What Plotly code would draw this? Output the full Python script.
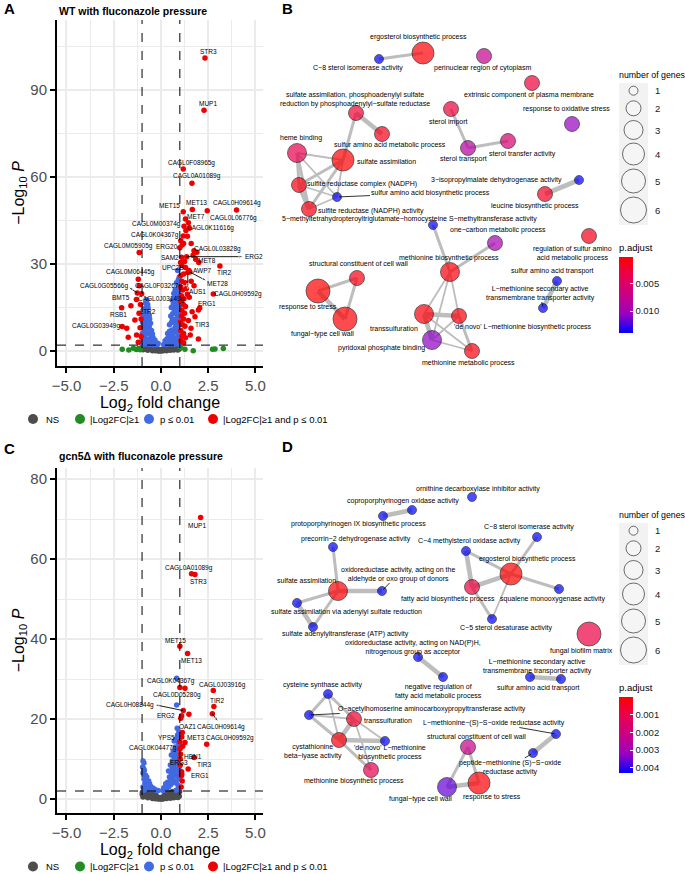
import plotly.graph_objects as go

W, H = 685, 874
FONT = "Liberation Sans, Arial, sans-serif"

# ================= Panel A : WT volcano (log2FC, -log10 P) =================
A_ns = [(-0.98,1.6),(-0.9,1.2),(-0.82,1.5),(-0.75,0.9),(-0.66,1.1),(-0.58,0.7),(-0.5,0.8),(-0.43,0.5),
        (-0.35,0.4),(-0.27,0.3),(-0.2,0.2),(-0.12,0.1),(-0.05,0.05),(0.03,0.08),(0.1,0.15),(0.17,0.25),
        (0.25,0.3),(0.33,0.45),(0.41,0.5),(0.48,0.7),(0.56,0.8),(0.63,1.0),(0.71,1.2),(0.79,1.4),(0.86,1.5),
        (0.94,1.7),(0.99,1.9),(-0.95,0.4),(-0.7,0.2),(-0.45,0.1),(-0.3,0.05),(-0.15,0.0),(0.0,0.02),
        (0.12,0.03),(0.3,0.1),(0.5,0.2),(0.68,0.3),(0.84,0.5),(0.97,0.7),(-0.6,1.8),(-0.25,1.0),(0.08,0.6),
        (0.2,1.2),(0.4,1.7),(0.6,1.9),(0.9,0.3),(-0.88,0.6),(-0.38,1.3),(0.45,1.1),(0.75,0.6),(-0.99,1.0),
        (-0.8,1.9),(-0.1,0.5),(0.35,1.3)]
A_fc = [(-2.05,0.6),(-1.46,0.9),(-1.3,0.5),(-1.18,0.8),(-1.1,0.4),(-1.7,0.3),(1.27,0.6),(1.71,0.1),
        (2.73,0.6),(2.86,0.7),(3.3,0.8),(1.05,1.2)]
A_p = [(-1.0,2.5),(-0.9,2.3),(-0.8,2.6),(-0.7,2.4),(-0.6,2.2),(-0.5,2.3),(-0.4,2.1),(-0.3,2.2),(-0.2,2.1),
       (-0.98,4),(-0.85,4.5),(-0.72,3.8),(-0.6,4.2),(-0.48,3.5),(-0.35,3.2),(-0.25,2.8),
       (-0.99,6),(-0.9,6.5),(-0.78,5.8),(-0.65,6.2),(-0.52,5.2),(-0.42,4.6),
       (-0.97,8),(-0.88,8.5),(-0.75,7.8),(-0.62,8.3),(-0.5,7),
       (-0.98,10),(-0.85,10.5),(-0.72,10),(-0.6,11),
       (-0.95,12),(-0.82,12.5),(-0.7,13),(-0.62,12.2),
       (-0.9,14.5),(-0.78,15),(-0.68,14.8),(-0.82,16.5),(-0.74,17.6),
       (0.15,2.2),(0.25,2.4),(0.35,2.3),(0.45,2.6),(0.55,2.4),(0.65,2.5),(0.75,2.3),(0.85,2.6),(0.95,2.4),
       (0.22,3.5),(0.32,4.2),(0.42,4.6),(0.55,4),(0.68,4.5),(0.8,3.8),(0.92,4.2),
       (0.35,6),(0.45,6.8),(0.58,7.2),(0.7,6.5),(0.82,7),(0.95,6.3),
       (0.45,9),(0.55,9.8),(0.67,10.2),(0.78,9.5),(0.9,10),(0.98,9),
       (0.52,12),(0.62,12.8),(0.72,13.5),(0.85,12.5),(0.95,13),
       (0.55,15),(0.65,16),(0.76,15.5),(0.88,16.2),(0.97,15),
       (0.6,17.5),(0.72,18.5),(0.85,19),(0.95,18),
       (0.75,21),(0.88,21.5),(0.96,22),(0.82,23.5),(0.92,24.5),(0.97,25.5),
       (-0.93,3),(-0.86,7),(-0.92,9.2),(-0.78,11.5),(-0.88,13.5),(-0.7,16),(-0.55,9.5),(-0.45,5.8),
       (-0.32,3.8),(-0.66,9.2),(0.28,2.9),(0.5,5.2),(0.62,5.8),(0.75,8.2),(0.88,8.3),(0.6,11),(0.8,11),
       (0.92,11.5),(0.68,14.5),(0.82,14),(0.9,17.3),(0.78,17),(0.68,19.8),(0.8,20.3),(0.93,20),(0.9,23),
       (0.72,3.2),(0.9,5.5),(0.38,3.3),(-0.15,2.6)]
A_sig = [(1.05,38),(1.12,36.5),(1.2,37),(1.04,30.5),(1.1,29.5),(1.25,30.8),(1.3,28.8),(1.05,26),(1.2,26.5),
         (1.1,24),(1.28,23.5),(1.05,22),(1.15,21),(1.35,21.5),(1.08,19),(1.22,18),(1.4,19.5),(1.05,17),
         (1.18,16),(1.3,15.3),(1.1,14),(1.25,13),(1.08,12),(1.2,11),(1.03,10),(1.15,9),(1.27,8.5),(1.05,7),
         (1.2,6),(1.1,5),(1.3,4.5),(1.05,3.5),(1.2,2.8),(1.8,11.8),(1.98,4.1),(1.6,24),(1.75,22.5),
         (1.5,18.5),(1.65,13.5),(2.05,14.8),(1.45,10.5),(1.55,5.5),(1.7,33),(1.9,34),(2.0,30.5),(1.6,37),
         (1.4,39.5),(1.3,45.5),(1.22,43),
         (-1.3,17.7),(-1.16,13),(-1.38,10.7),(-1.29,5.5),(-1.73,4.7),(-1.81,7.8),(-1.1,8),(-1.05,11),
         (-1.15,22.5),(-1.08,16),(-1.05,5),(-1.2,3)]
# labelled genes: name, log2FC, -log10P, class
A_genes = ["STR3","MUP1","CAGL0F08965g","CAGL0A01089g","MET15","MET13","CAGL0H09614g","CAGL0L06776g",
           "MET7","CAGL0M00374g","CAGL0K11616g","CAGL0K04367g","CAGL0M05905g","ERG20","CAGL0L03828g",
           "SAM2","ERG2","MET8","TIR2","UPC2B","AWP7","MET28","AUS1","CAGL0H09592g","ERG1","TIR3",
           "CAGL0M06445g","CAGL0G05566g","CAGL0F03267g","BMT5","CAGL0J03149g","LTR2","RSB1","CAGL0G03949g"]
A_gene_fc = [2.33,2.28,1.18,1.64,1.18,1.66,4.0,2.45,1.45,1.32,1.5,1.18,-1.15,1.0,1.75,1.09,1.36,1.84,3.12,
             0.88,1.48,1.53,1.42,2.77,1.98,1.59,-1.2,-1.25,-1.02,-1.59,0.88,-0.85,-2.08,-2.05]
A_gene_lp = [101,83,62.7,57.8,48,48.8,48.6,48.3,44.2,41.5,42.3,39.6,33.9,35.6,34.5,32.3,32.5,31.6,29.3,27.7,
             27.7,27.2,27.0,19.6,14.1,7.8,24.7,20,19.7,15.6,17.2,12.0,14.9,8.4]
A_gene_cls = ["sig"]*19 + ["p"] + ["sig"]*10 + ["p","p","sig","sig"]

# ================= Panel C : gcn5 volcano =================
C_ns = [(-0.98,1.7),(-0.9,1.3),(-0.82,1.5),(-0.75,1.0),(-0.66,1.2),(-0.58,0.8),(-0.5,0.7),(-0.43,0.5),
        (-0.35,0.4),(-0.27,0.3),(-0.2,0.2),(-0.12,0.1),(-0.05,0.05),(0.03,0.08),(0.1,0.15),(0.17,0.25),
        (0.25,0.3),(0.33,0.45),(0.41,0.5),(0.48,0.7),(0.56,0.8),(0.63,1.0),(0.71,1.2),(0.79,1.4),(0.86,1.5),
        (0.94,1.7),(0.99,1.9),(-0.95,0.5),(-0.7,0.3),(-0.45,0.1),(-0.3,0.05),(-0.15,0.0),(0.0,0.02),
        (0.12,0.03),(0.3,0.1),(0.5,0.2),(0.68,0.3),(0.84,0.5),(0.97,0.7),(-0.6,1.8),(-0.25,0.9),(0.08,0.5),
        (0.2,1.1),(0.4,1.6),(0.6,1.9),(0.9,0.4),(-0.88,0.8),(-0.38,1.3),(0.45,1.1),(0.75,0.6),(-0.99,1.1),
        (-0.8,1.9),(-0.1,0.4),(0.35,1.3)]
C_p = [(-0.95,9.5),(-0.9,9),(-0.97,8),(-0.88,7.2),(-0.95,6.5),(-0.82,6),(-0.9,5),(-0.75,5.5),(-0.65,4.5),
       (-0.85,4),(-0.7,3.5),(-0.55,3.2),(-0.45,2.8),(-0.35,2.5),(-0.25,2.2),(-0.95,3),(-0.6,2.4),(-0.8,2.6),
       (-0.9,2.2),(-0.15,2.1),
       (0.1,2.1),(0.2,2.3),(0.3,2.6),(0.4,3),(0.5,3.5),(0.6,4),(0.7,4.5),(0.8,4),(0.9,3.5),(0.95,5),
       (0.35,4.2),(0.45,5.5),(0.55,6.5),(0.65,7.2),(0.75,6.8),(0.85,7.5),(0.97,8),(0.5,8.5),(0.6,9.5),
       (0.7,10.5),(0.8,9.8),(0.9,11),(0.98,10),(0.65,12),(0.75,13),(0.85,12.5),(0.93,14),(0.78,15),
       (0.88,16),(0.95,16.8),(0.86,17.7),(0.55,11),(0.4,7),(0.25,3.8),(0.97,12.5),(0.83,23.5),(0.83,30.2),
       (0.7,14.5),(0.92,2.5),(0.8,2.2),
       (-0.92,7.6),(-0.8,4.6),(-0.6,3.8),(-0.5,2.4),(-0.72,2.9),(0.15,2.8),(0.35,3.3),(0.5,4.6),(0.62,5.5),
       (0.72,5.8),(0.85,5.7),(0.9,6.5),(0.7,8.5),(0.88,9),(0.6,7.8),(0.8,11.5),(0.9,13),(0.68,11),
       (0.85,14.6),(0.92,15.5)]
C_sig = [(1.48,21.2),(1.05,20.2),(1.1,15.5),(1.05,12.8),(1.02,10),(1.1,6.2),(1.08,5.8),(1.15,13.2),
         (1.02,8.5),(1.07,3),(1.12,4.5)]
C_genes = ["MUP1","CAGL0A01089g","STR3","MET15","MET13","CAGL0K04367g","CAGL0D05280g","CAGL0J03916g",
           "TIR2","CAGL0H09614g","CAGL0H08844g","ERG2","OAZ1","YPS5","MET3","CAGL0H09592g","CAGL0K04477g",
           "HBN1","TIR3","ERG3","ERG1"]
C_gene_fc = [2.1,1.62,1.8,1.0,1.41,1.0,1.27,2.77,2.8,2.72,1.18,1.09,1.13,1.0,1.27,2.42,1.0,1.04,1.75,1.09,1.44]
C_gene_lp = [70.4,56.3,56.1,38.2,36.4,27.9,27.7,27.1,23.1,21.3,22.1,20.8,16.6,14.3,14.1,13.7,12.5,11.2,10.4,6.8,7.5]

# ================= Panel B : enrichment map (WT) =================
B_terms = ["ergosterol biosynthetic process","C−8 sterol isomerase activity","perinuclear region of cytoplasm",
           "extrinsic component of plasma membrane","response to oxidative stress",
           "sulfate assimilation, phosphoadenylyl sulfate<br>reduction by phosphoadenylyl−sulfate reductase",
           "sulfur amino acid metabolic process","heme binding","sulfate assimilation",
           "sulfite reductase complex (NADPH)","sulfur amino acid biosynthetic process",
           "sulfite reductase (NADPH) activity","sterol import","sterol transport","sterol transfer activity",
           "3−isopropylmalate dehydrogenase activity","leucine biosynthetic process",
           "5−methyltetrahydropteroyltriglutamate−homocysteine S−methyltransferase activity",
           "one−carbon metabolic process","methionine biosynthetic process",
           "regulation of sulfur amino<br>acid metabolic process","sulfur amino acid transport",
           "L−methionine secondary active<br>transmembrane transporter activity",
           "structural constituent of cell wall","response to stress","fungal−type cell wall","transsulfuration",
           "'de novo' L−methionine biosynthetic process","pyridoxal phosphate binding",
           "methionine metabolic process"]
B_x = [423,379,484,532,572,356,382,297,343,299,337,309,451,468,508,579,545,433,495,450,589,557,543,357,318,345,424,459,432,472]
B_y = [53,59,56,83,124,113,134,153,160,185,197,209,109,148,141,180,194,225,243,272,236,281,308,278,291,319,314,316,340,351]
B_count = [4,1,2,2,2,2,2,3,4,2,1,2,2,2,2,1,2,1,2,3,2,1,1,2,5,5,3,2,3,2]
B_padj = [0.0003,0.01406,0.0075,0.0025,0.0105,0.0022,0.0012,0.0035,0.0002,0.0008,0.01406,0.0008,0.0025,
          0.0085,0.0055,0.01406,0.0015,0.01406,0.0095,0.0004,0.0012,0.01406,0.01406,0.0008,0.00001,0.0002,
          0.0004,0.0005,0.0108,0.0006]
B_edges = [(0,1,2),(12,13,2),(13,14,2),(15,16,3),(21,22,3),(5,6,3),(5,8,2),(7,8,1),(7,9,2),(7,11,2),(7,10,1),
           (8,9,2),(8,10,1),(8,11,2),(9,10,1),(9,11,3),(10,11,1),(17,19,2),(18,19,2),(19,26,1),(19,27,1),
           (19,28,1),(26,27,3),(26,28,3),(26,29,1),(27,28,1),(27,29,2),(28,29,1),(23,24,2),(23,25,2),(24,25,3)]

# ================= Panel D : enrichment map (gcn5) =================
D_terms = ["ornithine decarboxylase inhibitor activity","coproporphyrinogen oxidase activity",
           "protoporphyrinogen IX biosynthetic process","precorrin−2 dehydrogenase activity","sulfate assimilation",
           "oxidoreductase activity, acting on the<br>aldehyde or oxo group of donors",
           "sulfate assimilation via adenylyl sulfate reduction","sulfate adenylyltransferase (ATP) activity",
           "C−8 sterol isomerase activity","C−4 methylsterol oxidase activity","ergosterol biosynthetic process",
           "fatty acid biosynthetic process","squalene monooxygenase activity","C−5 sterol desaturase activity",
           "fungal biofilm matrix","oxidoreductase activity, acting on NAD(P)H,<br>nitrogenous group as acceptor",
           "negative regulation of<br>fatty acid metabolic process",
           "L−methionine secondary active<br>transmembrane transporter activity","sulfur amino acid transport",
           "cysteine synthase activity","O−acetylhomoserine aminocarboxypropyltransferase activity",
           "transsulfuration","cystathionine<br>beta−lyase activity","'de novo' L−methionine<br>biosynthetic process",
           "methionine biosynthetic process","L−methionine−(S)−S−oxide reductase activity",
           "peptide−methionine (S)−S−oxide<br>reductase activity","structural constituent of cell wall",
           "fungal−type cell wall","response to stress"]
D_x = [472,412,383,333,338,382,297,313,537,466,511,472,559,492,589,418,443,530,561,328,309,354,339,385,371,556,533,468,447,479]
D_y = [497,510,516,547,591,591,603,627,537,551,574,587,589,619,634,657,677,677,679,694,715,719,740,741,770,734,753,747,787,783]
D_count = [1,1,1,1,3,1,1,1,1,1,4,2,1,1,5,1,1,1,1,1,1,2,2,1,2,1,1,2,3,4]
D_padj = [0.00429,0.00429,0.00429,0.00429,0.00005,0.00429,0.00429,0.00429,0.00429,0.00429,0.00001,0.0008,
          0.00429,0.00429,0.0009,0.00429,0.00429,0.00429,0.00429,0.00429,0.00429,0.0006,0.0002,0.00429,0.0011,
          0.00429,0.00429,0.0022,0.0036,0.0001]
D_edges = [(1,2,3),(3,4,2),(4,5,3),(4,6,2),(4,7,2),(6,7,3),(9,10,2),(9,11,3),(10,11,3),(8,10,2),(10,12,2),
           (10,13,1),(11,13,2),(15,16,3),(17,18,3),(19,20,2),(19,21,2),(19,22,1),(20,21,1),(20,22,2),(21,22,3),
           (21,23,1),(22,23,3),(21,24,1),(22,24,2),(25,26,3),(27,28,2),(27,29,2),(28,29,3)]

SIZE_LEVELS = [1, 2, 3, 4, 5, 6]

# ---------------- styles / layout helpers (not data) ----------------
COL = {"ns": "#4D4D4D", "fc": "#228B22", "p": "#4169E1", "sig": "#EE0000"}
SIZE_PX = {1: 9, 2: 15, 3: 19, 4: 22, 5: 24, 6: 26}
EDGE_W = {1: 1.8, 2: 3.0, 3: 4.6}
CSCALE = [[0, "#0000FF"], [0.25, "rgb(154,0,194)"], [0.5, "rgb(202,0,136)"], [0.75, "rgb(232,0,80)"], [1, "#FF0000"]]

A_lab = {"STR3": (4, -6), "MUP1": (4, -7), "CAGL0F08965g": (8, -6), "CAGL0A01089g": (5, -7), "MET15": (-14, -6),
         "MET13": (4, -7), "CAGL0H09614g": (0, -7), "CAGL0L06776g": (26, 7), "MET7": (8, -6),
         "CAGL0M00374g": (-29, -7), "CAGL0K11616g": (21, 0), "CAGL0K04367g": (-28, -1),
         "CAGL0M05905g": (-11, -7), "ERG20": (-13, -1), "CAGL0L03828g": (23, -2), "SAM2": (-12, 0),
         "ERG2": (67, 0), "MET8": (11, 1), "TIR2": (4, 7), "UPC2B": (-5, -3), "AWP7": (14, 0),
         "MET28": (28, 11), "AUS1": (10, 19), "CAGL0H09592g": (25, 0), "ERG1": (9, -7), "TIR3": (11, -4),
         "CAGL0M06445g": (-8, -7), "CAGL0G05566g": (-33, -7), "CAGL0F03267g": (17, -8), "BMT5": (-10, -8),
         "CAGL0J03149g": (-16, -2), "LTR2": (3, -5), "RSB1": (-3, 7), "CAGL0G03949g": (-26, -1)}
A_arrow = {"ERG2": (57, 0), "MET28": (17, 9), "AUS1": (0, 16), "CAGL0G05566g": (-9, -6)}
C_lab = {"MUP1": (-4, 8), "CAGL0A01089g": (-3, -6), "STR3": (4, 7), "MET15": (-4, -6), "MET13": (4, 7),
         "CAGL0K04367g": (-9, -6), "CAGL0D05280g": (-8, 7), "CAGL0J03916g": (9, -6), "TIR2": (3, -6),
         "CAGL0H09614g": (9, 13), "CAGL0H08844g": (-53, -6), "ERG2": (-16, 0), "OAZ1": (5, -6),
         "YPS5": (-13, -4), "MET3": (11, -5), "CAGL0H09592g": (23, -6), "CAGL0K04477g": (-27, -1),
         "HBN1": (12, 2), "TIR3": (10, 7), "ERG3": (-3, -9), "ERG1": (12, 6)}
C_arrow = {"CAGL0H09614g": (6, 8), "CAGL0H08844g": (-29, -6)}

B_off = [(-5,-16),(-21,9),(-2,12),(-3,12),(-6,-15),(-1,-14),(8,11),(4,-15),(43,1),(63,-1),(93,-4),(62,2),
         (-3,13),(-5,11),(14,13),(-83,0),(-10,12),(-24,-6),(3,-13),(-1,-14),(-17,17),(-5,-10),(-3,-15),
         (1,-15),(-10,16),(-23,15),(-30,14),(64,11),(-51,8),(-4,12)]
B_lead = {10, 22}
D_off = [(6,-8),(-9,-9),(-25,8),(23,-8),(-32,-11),(16,-17),(49,9),(32,7),(-8,-10),(3,-10),(16,-15),(-24,12),
         (-6,10),(14,9),(-8,17),(-5,-10),(-5,14),(7,-11),(-23,9),(-6,-9),(123,-6),(34,1),(-26,11),(5,11),
         (-17,11),(-62,-11),(-23,14),(8,-11),(-27,12),(13,14)]
D_lead = {5, 20, 25, 26}

# axis geometry (page pixels)
VX0, VX1 = 57, 263
A_T, A_B = 20, 366
C_T, C_B = 468, 813
XR = [-5.5, 5.4]
A_YR = [-5.2, 114.1]
C_YR = [-3.5, 82.75]

fig = go.Figure()
ann = []
shapes = []


def unzip(pairs):
    return [p[0] for p in pairs], [p[1] for p in pairs]


def volcano(xa, ya, ns, fc, p, sig, genes, gfc, glp, gcls):
    pts = {"ns": list(ns), "fc": list(fc), "p": list(p), "sig": list(sig)}
    for g, x, y, c in zip(genes, gfc, glp, gcls):
        pts[c].append((x, y))
    for k in ["ns", "fc", "p", "sig"]:
        if not pts[k]:
            continue
        x, y = unzip(pts[k])
        fig.add_trace(go.Scatter(x=x, y=y, mode="markers", xaxis=xa, yaxis=ya, showlegend=False,
                                 marker=dict(size=5.5, color=COL[k], line=dict(width=0)), hoverinfo="skip"))


volcano("x", "y", A_ns, A_fc, A_p, A_sig, A_genes, A_gene_fc, A_gene_lp, A_gene_cls)
volcano("x2", "y2", C_ns, [], C_p, C_sig, C_genes, C_gene_fc, C_gene_lp, ["sig"] * len(C_genes))


def vol_labels(xa, ya, genes, gfc, glp, lab, arrows, yr, top, bot):
    sx = (XR[1] - XR[0]) / (VX1 - VX0)
    sy = (yr[1] - yr[0]) / (bot - top)
    for g, x, y in zip(genes, gfc, glp):
        dx, dy = lab[g]
        ann.append(dict(x=x, y=y, xref=xa, yref=ya, text=g, showarrow=False, xshift=dx, yshift=-dy,
                        font=dict(size=6.5, color="black", family=FONT)))
        if g in arrows:
            adx, ady = arrows[g]
            fig.add_trace(go.Scatter(x=[x, x + adx * sx], y=[y, y - ady * sy], mode="lines+markers",
                                     xaxis=xa, yaxis=ya, showlegend=False, hoverinfo="skip",
                                     line=dict(color="black", width=0.9),
                                     marker=dict(symbol="arrow", size=[0, 5], angleref="previous",
                                                 color="black")))


vol_labels("x", "y", A_genes, A_gene_fc, A_gene_lp, A_lab, A_arrow, A_YR, A_T, A_B)
vol_labels("x2", "y2", C_genes, C_gene_fc, C_gene_lp, C_lab, C_arrow, C_YR, C_T, C_B)

# threshold lines
for xr, yr in [("x", "y"), ("x2", "y2")]:
    for xv in (-1, 1):
        shapes.append(dict(type="line", xref=xr, yref=yr + " domain", x0=xv, x1=xv, y0=0, y1=1,
                           line=dict(color="black", width=1, dash="dash")))
    shapes.append(dict(type="line", xref=xr + " domain", yref=yr, x0=0, x1=1, y0=2, y1=2,
                       line=dict(color="black", width=1, dash="dash")))


# ---------------- networks ----------------
def network(terms, nx, ny, cnt, padj, edges, offs, leads, cb_top, tvals):
    for w in (1, 2, 3):
        ex, ey = [], []
        for i, j, ww in edges:
            if ww == w:
                ex += [nx[i], nx[j], None]
                ey += [ny[i], ny[j], None]
        fig.add_trace(go.Scatter(x=ex, y=ey, mode="lines", xaxis="x3", yaxis="y3", showlegend=False,
                                 line=dict(color="#BDBDBD", width=EDGE_W[w]), hoverinfo="skip"))
    pmin, pmax = min(padj), max(padj)
    fig.add_trace(go.Scatter(
        x=nx, y=ny, mode="markers", xaxis="x3", yaxis="y3", showlegend=False, hoverinfo="skip",
        marker=dict(size=[SIZE_PX[c] for c in cnt], color=[-p for p in padj], colorscale=CSCALE,
                    cmin=-pmax, cmax=-pmin, line=dict(color="black", width=0.8), showscale=True,
                    colorbar=dict(x=619 / W, xanchor="left", xpad=0, y=1 - (cb_top - 16) / H, yanchor="top",
                                  ypad=0, len=92, lenmode="pixels", thickness=14, thicknessmode="pixels",
                                  outlinewidth=0, ticks="inside", tickcolor="white", ticklen=3,
                                  title=dict(text="p.adjust", side="top",
                                             font=dict(size=9.5, color="black", family=FONT)),
                                  tickvals=[-v for v in tvals], ticktext=["%.3f" % v for v in tvals],
                                  tickfont=dict(size=9.5, color="#1A1A1A", family=FONT)))))
    for k, (t, x, y) in enumerate(zip(terms, nx, ny)):
        dx, dy = offs[k]
        if k in leads:
            ann.append(dict(x=x, y=y, xref="x3", yref="y3", ax=x + dx, ay=y + dy, axref="x3", ayref="y3",
                            text=t, showarrow=True, arrowhead=0, arrowwidth=0.8, arrowcolor="black",
                            standoff=2, borderpad=0, font=dict(size=7, color="black", family=FONT)))
        else:
            ann.append(dict(x=x + dx, y=y + dy, xref="x3", yref="y3", text=t, showarrow=False,
                            font=dict(size=7, color="black", family=FONT)))


network(B_terms, B_x, B_y, B_count, B_padj, B_edges, B_off, B_lead, 257, [0.005, 0.010])
network(D_terms, D_x, D_y, D_count, D_padj, D_edges, D_off, D_lead, 697, [0.001, 0.002, 0.003, 0.004])

# size legends
for top, circ_y in [(75, [90.7, 108.3, 130, 154, 181, 210]), (515, [530.7, 548.3, 570, 594, 621, 650])]:
    shapes.append(dict(type="rect", xref="x3", yref="y3", x0=619, x1=648, y0=top + 8, y1=top + 150,
                       fillcolor="#F2F2F2", line=dict(width=0), layer="below"))
    fig.add_trace(go.Scatter(x=[633.5] * 6, y=circ_y, mode="markers", xaxis="x3", yaxis="y3", showlegend=False,
                             hoverinfo="skip",
                             marker=dict(size=[SIZE_PX[s] for s in SIZE_LEVELS], color="#F7F7F7",
                                         line=dict(color="black", width=0.8))))
    for s, yy in zip(SIZE_LEVELS, circ_y):
        ann.append(dict(x=653, y=yy, xref="x3", yref="y3", text=str(s), showarrow=False, xanchor="left",
                        font=dict(size=9.5, color="#1A1A1A", family=FONT)))
    ann.append(dict(x=617, y=top, xref="x3", yref="y3", text="number of genes", showarrow=False,
                    xanchor="left", font=dict(size=8.8, color="black", family=FONT)))

# volcano legends
LEG = [("ns", "NS"), ("fc", "|Log2FC|≥1"), ("p", "p ≤ 0.01"), ("sig", "|Log2FC|≥1 and p ≤ 0.01")]
LEG_DOT_X = [33, 80, 149, 213]
LEG_TXT_X = [44, 88, 158, 221]
for ly in (419, 866.5):
    fig.add_trace(go.Scatter(x=LEG_DOT_X, y=[ly] * 4, mode="markers", xaxis="x3", yaxis="y3", showlegend=False,
                             hoverinfo="skip", marker=dict(size=10, color=[COL[k] for k, _ in LEG])))
    for (k, t), tx in zip(LEG, LEG_TXT_X):
        ann.append(dict(x=tx, y=ly, xref="x3", yref="y3", text=t, showarrow=False, xanchor="left",
                        font=dict(size=9.5, color="black", family=FONT)))

# titles / panel letters
for t, x, y in [("A", 2, 8), ("B", 280, 8), ("C", 2, 448), ("D", 280, 446)]:
    ann.append(dict(x=x, y=y, xref="x3", yref="y3", text="<b>%s</b>" % t, showarrow=False, xanchor="left",
                    font=dict(size=15, color="black", family=FONT)))
for t, y in [("WT with fluconazole pressure", 11), ("gcn5Δ with fluconazole pressure", 456)]:
    ann.append(dict(x=57, y=y, xref="x3", yref="y3", text="<b>%s</b>" % t, showarrow=False, xanchor="left",
                    font=dict(size=10.5, color="black", family=FONT)))


def vaxis(dom, rng, dtick, minor, anchor, title, standoff, fmt=None):
    d = dict(domain=dom, range=rng, dtick=dtick, tick0=0, anchor=anchor, showgrid=True, gridcolor="#EBEBEB",
             gridwidth=1.6, minor=dict(dtick=minor, showgrid=True, gridcolor="#EBEBEB", gridwidth=1, ticks=""),
             zeroline=False, showline=True, linecolor="black", linewidth=2, ticks="outside", ticklen=5,
             tickwidth=1.5, tickcolor="black", tickfont=dict(size=15, color="#4D4D4D", family=FONT),
             title=dict(text=title, standoff=standoff, font=dict(size=16, color="black", family=FONT)),
             automargin=False, fixedrange=True)
    if fmt:
        d["tickformat"] = fmt
    return d


XT = "Log<sub>2</sub> fold change"
YT = "−Log<sub>10</sub> <i>P</i>"
xd = [VX0 / W, VX1 / W]
fig.update_layout(
    width=W, height=H, margin=dict(l=0, r=0, t=0, b=0), paper_bgcolor="white", plot_bgcolor="rgba(0,0,0,0)",
    font=dict(family=FONT),
    xaxis=vaxis(xd, XR, 2.5, 1.25, "y", XT, 4, ".1f"),
    yaxis=vaxis([1 - A_B / H, 1 - A_T / H], A_YR, 30, 15, "x", YT, 2),
    xaxis2=vaxis(xd, XR, 2.5, 1.25, "y2", XT, 4, ".1f"),
    yaxis2=vaxis([1 - C_B / H, 1 - C_T / H], C_YR, 20, 10, "x2", YT, 2),
    xaxis3=dict(domain=[0, 1], range=[0, W], visible=False, anchor="y3", fixedrange=True),
    yaxis3=dict(domain=[0, 1], range=[H, 0], visible=False, anchor="x3", fixedrange=True),
    annotations=ann, shapes=shapes,
)
fig.write_html("out.html", config={"displayModeBar": False},
               post_script="document.body.style.margin='0';document.body.style.overflow='hidden';")
